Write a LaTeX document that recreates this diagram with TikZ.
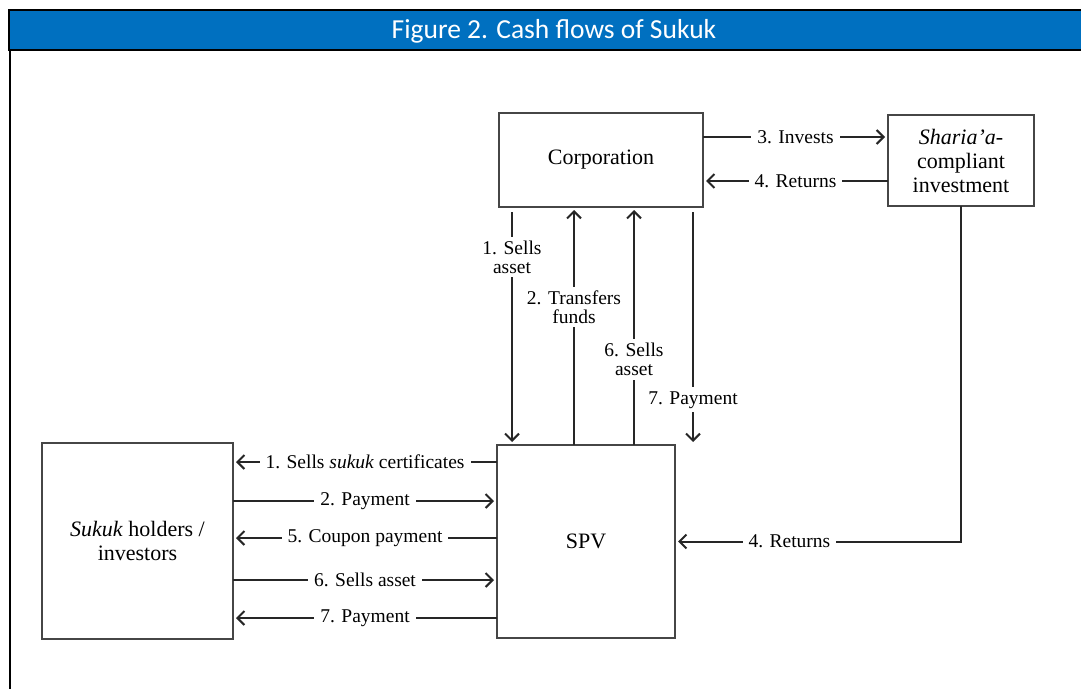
\documentclass[tikz,border=0pt]{standalone}
\usepackage{fontspec}
\setmainfont{Liberation Serif}
\newfontfamily\titlefont{Carlito}
\usepackage{tikz}
\usetikzlibrary{positioning,arrows.meta}
\usepackage{xcolor}
\definecolor{headblue}{RGB}{0,112,192}
\definecolor{boxgray}{RGB}{70,70,70}

\tikzset{
  entity/.style={draw=boxgray, line width=2pt, inner sep=0pt, outer sep=0pt,
    align=center, font=\fontsize{22}{24}\selectfont},
  flow/.style={draw=black!85, line width=2pt, shorten >=3pt,
    -{Straight Barb[length=7pt,width=14pt]}},
  lbl/.style={fill=white, inner xsep=6pt, inner ysep=4pt, align=center,
    font=\fontsize{19.5}{19}\selectfont},
}

\begin{document}
\begin{tikzpicture}[x=1pt,y=-1pt]
    \useasboundingbox (0,0) rectangle (1081,688);

    % header bar and frame
    \fill[headblue] (9,10) rectangle (1090,50);
    \draw[line width=2.5pt] (1090,10) -- (9,10) -- (9,50) -- (1090,50);
    \draw[line width=2.5pt] (10,50) -- (10,695);
    \node[text=white, font=\titlefont\fontsize{27.5}{29}\selectfont] (title) at (554,31)
      {Figure 2. Cash flows of Sukuk};

    % Parties
    \node[entity, minimum width=204pt, minimum height=94pt] (corp) at (601,160) {Corporation};
    \node[entity, minimum width=146pt, minimum height=91pt] (shar) at (961,160.5)
      {\textit{Sharia'a-}\\compliant\\investment};
    \node[entity, minimum width=178pt, minimum height=193pt] (spv) at (586,541.5) {SPV};
    \node[entity, minimum width=191pt, minimum height=196pt] (sukuk) at (137.5,541)
      {\textit{Sukuk} holders /\\investors};

    % Corporation <-> investment
    \draw[flow] ([yshift=23pt]corp.east) -- node[lbl] {3. Invests}
      ([yshift=23pt]corp.east -| shar.west);
    \draw[flow] ([yshift=-21pt]corp.east -| shar.west) -- node[lbl] {4. Returns}
      ([yshift=-21pt]corp.east);
    \draw[flow] (shar.south) |- node[lbl, pos=0.8] {4. Returns} (spv.east);

    % Corporation <-> SPV
    \draw[flow, shorten <=5pt] ([xshift=-89pt]corp.south) -- node[lbl, pos=0.21] {1. Sells\\asset}
      ([xshift=-89pt]corp.south |- spv.north);
    \draw[flow] ([xshift=-27pt]corp.south |- spv.north) -- node[lbl, pos=0.58] {2. Transfers\\funds}
      ([xshift=-27pt]corp.south);
    \draw[flow] ([xshift=33pt]corp.south |- spv.north) -- node[lbl, pos=0.36] {6. Sells\\asset}
      ([xshift=33pt]corp.south);
    \draw[flow, shorten <=5pt] ([xshift=92pt]corp.south) -- node[lbl, pos=0.81] {7. Payment}
      ([xshift=92pt]corp.south |- spv.north);

    % SPV <-> Sukuk holders
    \draw[flow] ([yshift=79pt]sukuk.east -| spv.west) -- node[lbl] {1. Sells \textit{sukuk} certificates}
      ([yshift=79pt]sukuk.east);
    \draw[flow] ([yshift=40pt]sukuk.east) -- node[lbl] {2. Payment}
      ([yshift=40pt]sukuk.east -| spv.west);
    \draw[flow] ([yshift=3pt]sukuk.east -| spv.west) -- node[lbl] {5. Coupon payment}
      ([yshift=3pt]sukuk.east);
    \draw[flow] ([yshift=-39pt]sukuk.east) -- node[lbl] {6. Sells asset}
      ([yshift=-39pt]sukuk.east -| spv.west);
    \draw[flow] ([yshift=-77pt]sukuk.east -| spv.west) -- node[lbl] {7. Payment}
      ([yshift=-77pt]sukuk.east);
\end{tikzpicture}
\end{document}
